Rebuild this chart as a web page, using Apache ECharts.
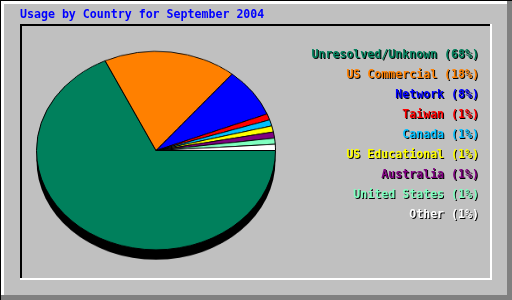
<!DOCTYPE html>
<html>
<head>
<meta charset="utf-8">
<script src="https://cdn.jsdelivr.net/npm/echarts@6/dist/echarts.min.js"></script>
<style>
  html, body { margin: 0; padding: 0; background: #c0c0c0; }
  #wrap { position: relative; width: 512px; height: 300px; overflow: hidden; }
  #bg, #pie { position: absolute; left: 0; top: 0; width: 512px; height: 300px; }
  #pie { transform: scaleY(0.83); transform-origin: 156px 150.5px; }
</style>
</head>
<body>
<div id="wrap">
  <div id="bg"></div>
  <div id="pie"></div>
</div>
<script>
const titleText = 'Usage by Country for September 2004';
const categories = ['Unresolved/Unknown', 'US Commercial', 'Network', 'Taiwan', 'Canada',
                    'US Educational', 'Australia', 'United States', 'Other'];
const shares = [68, 18, 8, 1, 1, 1, 1, 1, 1];
const sliceColors = ['#00805c', '#ff8000', '#0000ff', '#ff0000', '#00c0ff',
                     '#ffff00', '#800080', '#80ffc0', '#ffffff'];

const FONT = '"DejaVu Sans Mono", "Liberation Mono", monospace';

// ---- background chart: frame, title, legend ----
const bg = echarts.init(document.getElementById('bg'), null, { renderer: 'canvas' });
const g = [];
function box(x, y, w, h, c) {
  g.push({ type: 'rect', shape: { x: x, y: y, width: w, height: h }, style: { fill: c }, silent: true });
}
// outer bevel
box(0, 0, 512, 300, '#c0c0c0');
box(0, 0, 512, 4, '#ffffff');
box(0, 0, 4, 300, '#ffffff');
box(507, 0, 5, 300, '#808080');
box(0, 295, 512, 5, '#808080');
box(0, 0, 512, 1, '#000000');
box(0, 0, 1, 300, '#000000');
// inner sunken panel
box(20, 24, 471, 2, '#000000');
box(20, 24, 2, 255, '#000000');
box(20, 278, 472, 2, '#ffffff');
box(490, 24, 2, 256, '#ffffff');
// title
g.push({
  type: 'text', x: 20, y: 15, silent: true,
  style: { text: titleText, fill: '#0000ff', font: 'bold 11.6px ' + FONT, textAlign: 'left', textVerticalAlign: 'middle' }
});
// legend (black drop shadow, then coloured text)
categories.forEach((name, i) => {
  const label = name + ' (' + shares[i] + '%)';
  [[1, '#000000'], [0, sliceColors[i]]].forEach(([off, col]) => {
    g.push({
      type: 'text', x: 479 + off, y: 54.5 + i * 20 + off, silent: true,
      style: {
        text: label, fill: col, font: 'bold 11.6px ' + FONT,
        textAlign: 'right', textVerticalAlign: 'middle'
      }
    });
  });
});
bg.setOption({ animation: false, backgroundColor: '#c0c0c0', graphic: { elements: g } });

// ---- pie chart (squashed vertically into an ellipse) ----
const pie = echarts.init(document.getElementById('pie'), null, { renderer: 'canvas' });
const pieData = categories.map((name, i) => ({ name: name, value: shares[i], itemStyle: { color: sliceColors[i] } }));
pie.setOption({
  animation: false,
  backgroundColor: 'transparent',
  series: [
    {
      type: 'pie', silent: true, z: 1,
      center: [156, 162.5], radius: 119.5,
      startAngle: 0, clockwise: true,
      label: { show: false }, labelLine: { show: false },
      itemStyle: { color: '#000000', borderWidth: 0 },
      data: [{ name: 'depth', value: 1 }]
    },
    {
      type: 'pie', silent: true, z: 2,
      center: [156, 150.5], radius: 119.5,
      startAngle: 0, clockwise: true, minAngle: 0,
      avoidLabelOverlap: false,
      label: { show: false }, labelLine: { show: false },
      itemStyle: { borderColor: '#000000', borderWidth: 1 },
      emphasis: { disabled: true },
      data: pieData
    }
  ]
});
</script>
</body>
</html>
